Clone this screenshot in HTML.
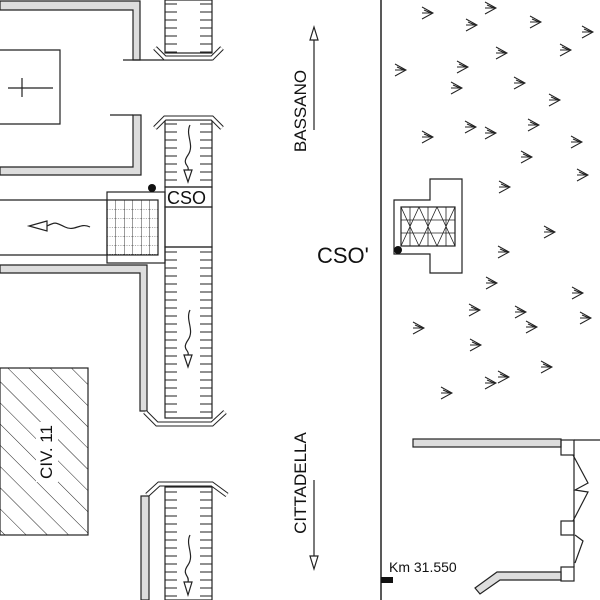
<!DOCTYPE html>
<html><head><meta charset="utf-8"><style>
html,body{margin:0;padding:0;background:#fff;}
svg{display:block;}
text{font-family:"Liberation Sans",sans-serif;fill:#111;}
</style></head><body>
<svg width="600" height="600" viewBox="0 0 600 600" xmlns="http://www.w3.org/2000/svg">
<defs>
<pattern id="tk" x="165" y="0" width="47" height="8" patternUnits="userSpaceOnUse">
<line x1="0" y1="4" x2="12" y2="4" stroke="#222" stroke-width="1"/>
<line x1="35" y1="4" x2="47" y2="4" stroke="#222" stroke-width="1"/>
</pattern>
<pattern id="hatch" width="15" height="15" patternUnits="userSpaceOnUse" patternTransform="rotate(-45)">
<line x1="0" y1="0" x2="0" y2="15" stroke="#222" stroke-width="1"/>
</pattern>
<pattern id="gv" x="107" y="200" width="8.5" height="9" patternUnits="userSpaceOnUse">
<path d="M0 0V9" stroke="#222" stroke-width="0.9"/>
<path d="M0 0H8.5" stroke="#222" stroke-width="0.8" stroke-dasharray="1.2 1.2"/>
</pattern>
</defs>
<g stroke="#222" stroke-width="1.2" fill="none">
<path d="M0 1H140V60H133V10H0Z" fill="#ddd"/>
<line x1="123" y1="60" x2="212" y2="60"/>
<path d="M0 50H60V124H0"/>
<line x1="8" y1="88" x2="53" y2="88"/><line x1="22" y1="78" x2="22" y2="97"/>
<path d="M0 167H133V115H141V175H0Z" fill="#ddd"/>
<line x1="110" y1="115" x2="133" y2="115"/>
<line x1="0" y1="200" x2="107" y2="200"/><line x1="0" y1="255" x2="107" y2="255"/>
<rect x="107" y="192" width="58" height="71"/>
<rect x="107" y="200" width="51" height="55" fill="url(#gv)"/>
<path d="M90 227 C80 222 75 232 65 227 S55 222 47 226" />
<path d="M47 221 L29 226 L47 231Z" fill="#fff"/>
<path d="M0 265H147V411H140V273H0Z" fill="#ddd"/>
<rect x="165" y="0" width="47" height="53" fill="url(#tk)"/>
<rect x="165" y="120" width="47" height="67" fill="url(#tk)"/>
<rect x="165" y="187" width="47" height="20"/>
<rect x="165" y="207" width="47" height="40"/>
<rect x="165" y="247" width="47" height="171" fill="url(#tk)"/>
<rect x="165" y="487" width="47" height="113" fill="url(#tk)"/>
<path d="M155 48 L165 58 H212 L222 48" stroke-width="5" stroke="#222"/>
<path d="M155 48 L165 58 H212 L222 48" stroke-width="3" stroke="#fff"/>
<path d="M155 128 L165 118 H212 L222 128" stroke-width="5"/>
<path d="M155 128 L165 118 H212 L222 128" stroke-width="3" stroke="#fff"/>
<path d="M145 412 L157 424 H212 L225 412" stroke-width="5"/>
<path d="M145 412 L157 424 H212 L225 412" stroke-width="3" stroke="#fff"/>
<path d="M147 495 L159 484 H212 L227 495" stroke-width="5"/>
<path d="M147 495 L159 484 H212 L227 495" stroke-width="3" stroke="#fff"/>
<rect x="141" y="496" width="8" height="104" fill="#ddd"/>
<path d="M190 125 C185 135 195 145 188 155 S190 165 188 170"/>
<path d="M184 170 L188 182 L192 170Z" fill="#fff"/>
<path d="M190 310 C185 320 195 330 188 340 S190 350 188 355"/>
<path d="M184 355 L188 367 L192 355Z" fill="#fff"/>
<path d="M190 535 C185 545 195 555 188 565 S190 575 188 582"/>
<path d="M184 582 L188 595 L192 582Z" fill="#fff"/>
<rect x="0" y="368" width="88" height="167" fill="url(#hatch)"/>
<rect x="36" y="422" width="22" height="60" fill="#fff" stroke="none"/>
<line x1="381" y1="0" x2="381" y2="600" stroke-width="1.5"/>
<line x1="314" y1="38" x2="314" y2="130"/>
<path d="M310 40 L314 27 L318 40Z" fill="#fff"/>
<line x1="314" y1="480" x2="314" y2="556"/>
<path d="M310 556 L314 569 L318 556Z" fill="#fff"/>
<path d="M394 200H430V179H462V273H430V254H394Z"/>
<rect x="401" y="207" width="54" height="39"/>
<path d="M410 207V246M428 207V246M446 207V246M401 220H455M401 233H455" stroke-width="0.8"/>
<path d="M401 207L419 246M419 207L437 246M437 207L455 246M419 207L401 246M437 207L419 246M455 207L437 246" stroke-width="0.8"/>
<rect x="413" y="439" width="148" height="8" fill="#ddd"/>
<rect x="561" y="440" width="13" height="15"/>
<line x1="574" y1="440" x2="600" y2="440"/>
<line x1="574" y1="455" x2="574" y2="567"/>
<path d="M573 455 L588 483 L575 490 L588 492 L573 521"/>
<rect x="561" y="521" width="13" height="14"/>
<path d="M575 535 L583 541 L575 563"/>
<rect x="561" y="567" width="13" height="14"/>
<path d="M561 572 H497 L475 588 L480 594 L500 580 H561Z" fill="#ddd"/>
</g>
<circle cx="152" cy="188" r="4" fill="#111"/>
<circle cx="398" cy="250" r="4" fill="#111"/>
<rect x="381" y="577" width="12" height="6" fill="#111"/>
<text x="167" y="204" font-size="18">CSO</text>
<text x="317" y="263" font-size="22">CSO'</text>
<text x="389" y="572" font-size="14">Km 31.550</text>
<text transform="translate(306,111) rotate(-90)" font-size="17" text-anchor="middle">BASSANO</text>
<text transform="translate(306,483) rotate(-90)" font-size="17" text-anchor="middle">CITTADELLA</text>
<text transform="translate(52,452) rotate(-90)" font-size="17" text-anchor="middle">CIV. 11</text>
<g stroke="#222" stroke-width="1" fill="none">
<path d="M-7 -6L4 0L-7 6M-7 0H4M-5 -3L2 0" transform="translate(429,13)"/>
<path d="M-7 -6L4 0L-7 6M-7 0H4M-5 -3L2 0" transform="translate(492,8)"/>
<path d="M-7 -6L4 0L-7 6M-7 0H4M-5 -3L2 0" transform="translate(473,25)"/>
<path d="M-7 -6L4 0L-7 6M-7 0H4M-5 -3L2 0" transform="translate(537,22)"/>
<path d="M-7 -6L4 0L-7 6M-7 0H4M-5 -3L2 0" transform="translate(589,32)"/>
<path d="M-7 -6L4 0L-7 6M-7 0H4M-5 -3L2 0" transform="translate(503,53)"/>
<path d="M-7 -6L4 0L-7 6M-7 0H4M-5 -3L2 0" transform="translate(567,50)"/>
<path d="M-7 -6L4 0L-7 6M-7 0H4M-5 -3L2 0" transform="translate(402,70)"/>
<path d="M-7 -6L4 0L-7 6M-7 0H4M-5 -3L2 0" transform="translate(464,67)"/>
<path d="M-7 -6L4 0L-7 6M-7 0H4M-5 -3L2 0" transform="translate(458,88)"/>
<path d="M-7 -6L4 0L-7 6M-7 0H4M-5 -3L2 0" transform="translate(521,83)"/>
<path d="M-7 -6L4 0L-7 6M-7 0H4M-5 -3L2 0" transform="translate(556,100)"/>
<path d="M-7 -6L4 0L-7 6M-7 0H4M-5 -3L2 0" transform="translate(472,127)"/>
<path d="M-7 -6L4 0L-7 6M-7 0H4M-5 -3L2 0" transform="translate(492,133)"/>
<path d="M-7 -6L4 0L-7 6M-7 0H4M-5 -3L2 0" transform="translate(535,125)"/>
<path d="M-7 -6L4 0L-7 6M-7 0H4M-5 -3L2 0" transform="translate(429,137)"/>
<path d="M-7 -6L4 0L-7 6M-7 0H4M-5 -3L2 0" transform="translate(578,142)"/>
<path d="M-7 -6L4 0L-7 6M-7 0H4M-5 -3L2 0" transform="translate(528,157)"/>
<path d="M-7 -6L4 0L-7 6M-7 0H4M-5 -3L2 0" transform="translate(584,175)"/>
<path d="M-7 -6L4 0L-7 6M-7 0H4M-5 -3L2 0" transform="translate(506,187)"/>
<path d="M-7 -6L4 0L-7 6M-7 0H4M-5 -3L2 0" transform="translate(551,232)"/>
<path d="M-7 -6L4 0L-7 6M-7 0H4M-5 -3L2 0" transform="translate(505,252)"/>
<path d="M-7 -6L4 0L-7 6M-7 0H4M-5 -3L2 0" transform="translate(493,283)"/>
<path d="M-7 -6L4 0L-7 6M-7 0H4M-5 -3L2 0" transform="translate(476,310)"/>
<path d="M-7 -6L4 0L-7 6M-7 0H4M-5 -3L2 0" transform="translate(522,312)"/>
<path d="M-7 -6L4 0L-7 6M-7 0H4M-5 -3L2 0" transform="translate(420,328)"/>
<path d="M-7 -6L4 0L-7 6M-7 0H4M-5 -3L2 0" transform="translate(579,293)"/>
<path d="M-7 -6L4 0L-7 6M-7 0H4M-5 -3L2 0" transform="translate(533,327)"/>
<path d="M-7 -6L4 0L-7 6M-7 0H4M-5 -3L2 0" transform="translate(587,318)"/>
<path d="M-7 -6L4 0L-7 6M-7 0H4M-5 -3L2 0" transform="translate(477,345)"/>
<path d="M-7 -6L4 0L-7 6M-7 0H4M-5 -3L2 0" transform="translate(548,367)"/>
<path d="M-7 -6L4 0L-7 6M-7 0H4M-5 -3L2 0" transform="translate(505,377)"/>
<path d="M-7 -6L4 0L-7 6M-7 0H4M-5 -3L2 0" transform="translate(492,383)"/>
<path d="M-7 -6L4 0L-7 6M-7 0H4M-5 -3L2 0" transform="translate(448,393)"/>
</g>
</svg>
</body></html>
